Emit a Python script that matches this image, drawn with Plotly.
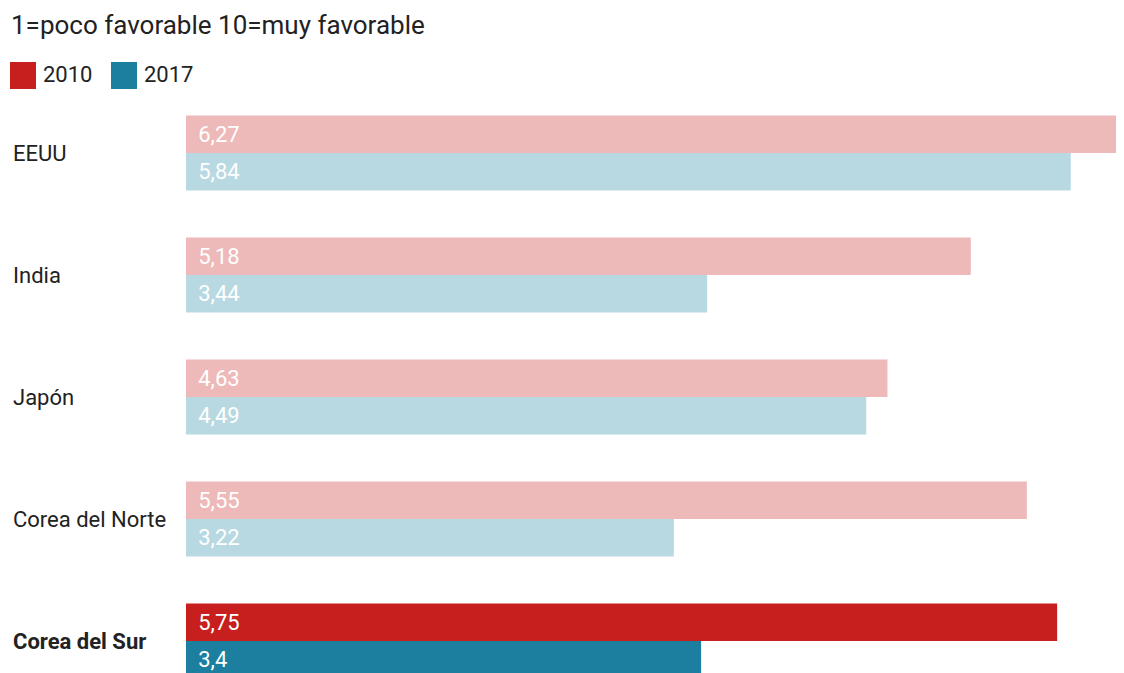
import plotly.graph_objects as go

paises = ["EEUU", "India", "Japón", "Corea del Norte", "Corea del Sur"]
v2010 = [6.27, 5.18, 4.63, 5.55, 5.75]
v2017 = [5.84, 3.44, 4.49, 3.22, 3.4]
destacado = "Corea del Sur"

titulo = "1=poco favorable 10=muy favorable"
anios = ["2010", "2017"]

rojo, rojo_claro = "#c61f1e", "#edb9b9"
azul, azul_claro = "#1c7fa0", "#b9d9e2"

# la pagina tiene 8px de margen, se descuenta
OFF = 8
W, H = 1124 - OFF, 673 - OFF
ML, MT = 186 - OFF, 92 - OFF
PW, PH = W - ML, H - MT


def etiqueta(v):
    return "\u00a0\u2006" + f"{v:g}".replace(".", ",")


def px2paper(x, y):
    # coordenadas de la referencia -> papel
    return (x - OFF - ML) / PW, 1 - (y - OFF - MT) / PH


fig = go.Figure()
fig.add_trace(go.Bar(
    y=paises, x=v2010, orientation="h", name=anios[0],
    marker=dict(color=[rojo if p == destacado else rojo_claro for p in paises], line_width=0),
    text=[etiqueta(v) for v in v2010], textposition="inside", insidetextanchor="start",
    textfont=dict(color="white", size=22, family="Roboto"), showlegend=False,
))
fig.add_trace(go.Bar(
    y=paises, x=v2017, orientation="h", name=anios[1],
    marker=dict(color=[azul if p == destacado else azul_claro for p in paises], line_width=0),
    text=[etiqueta(v) for v in v2017], textposition="inside", insidetextanchor="start",
    textfont=dict(color="white", size=22, family="Roboto"), showlegend=False,
))

# etiquetas de pais alineadas a la izquierda
x_lab, _ = px2paper(11, 0)
for p in paises:
    txt = f"<b>{p}</b>" if p == destacado else p
    fig.add_annotation(x=x_lab, xref="paper", y=p, yref="y", text=txt, showarrow=False,
                       xanchor="left", yanchor="middle",
                       font=dict(size=22, color="#222", family="Roboto"))

# leyenda manual
for (sx, tx), anio, col in zip([(10, 41), (111, 142)], anios, [rojo, azul]):
    x0, y0 = px2paper(sx, 62)
    x1, y1 = px2paper(sx + 26, 89)
    fig.add_shape(type="rect", xref="paper", yref="paper", x0=x0, x1=x1, y0=y1, y1=y0,
                  fillcolor=col, line_width=0)
    ax, ay = px2paper(tx, 75)
    fig.add_annotation(x=ax, y=ay, xref="paper", yref="paper", text=anio, showarrow=False,
                       xanchor="left", yanchor="middle",
                       font=dict(size=22, color="#222", family="Roboto"))

fig.update_layout(
    width=W, height=H,
    margin=dict(l=ML, r=0, t=MT, b=0),
    paper_bgcolor="white", plot_bgcolor="white",
    barmode="group", bargap=0.385, bargroupgap=0,
    title=dict(text=titulo, x=3 / W, xref="container", xanchor="left",
               y=1 - (25 - OFF) / H, yref="container", yanchor="middle",
               font=dict(size=26, color="#222", family="Roboto")),
    xaxis=dict(range=[0, PW / 151.5], showgrid=False, zeroline=False,
               showticklabels=False, fixedrange=True),
    yaxis=dict(range=[-0.5 + PH / 122, -0.5], showgrid=False, zeroline=False,
               showticklabels=False, fixedrange=True),
    font=dict(family="Roboto"),
)

fig.write_html("out.html")
